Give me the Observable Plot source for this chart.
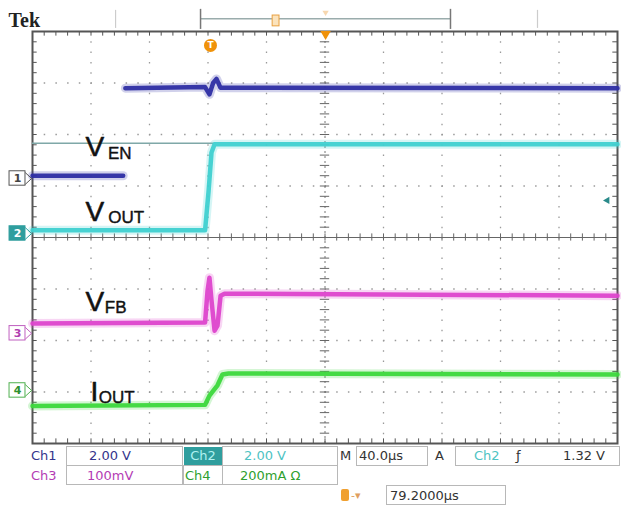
<!DOCTYPE html>
<html><head><meta charset="utf-8">
<script src="https://cdn.jsdelivr.net/npm/d3@7"></script>
<script src="https://cdn.jsdelivr.net/npm/@observablehq/plot@0.6"></script>
<style>
body{margin:0;background:#fff;}
#wrap{position:relative;width:621px;height:508px;overflow:hidden;font-family:"DejaVu Sans",sans-serif;background:#fff;}
#chart svg{display:block}
.s{position:absolute;font-size:13px;line-height:19px;height:19px;white-space:nowrap}
.b{position:absolute;border:1px solid #b8b8b8;box-sizing:border-box;height:20px}
</style></head><body>
<div id="wrap"><div id="chart"></div>
<div id="status">
  <span class="s" style="left:31px;top:446px;color:#34348c">Ch1</span>
  <div class="b" style="left:66px;top:446px;width:117px"></div>
  <span class="s" style="left:89px;top:446px;color:#34348c">2.00 V</span>
  <span class="s" style="left:184px;top:447px;width:38px;height:18px;line-height:18px;background:#2f9e9e;color:#b0f2f2;text-align:center">Ch2</span>
  <div class="b" style="left:222px;top:446px;width:116px"></div>
  <span class="s" style="left:244px;top:446px;color:#4ec3c3">2.00 V</span>
  <span class="s" style="left:340px;top:446px;color:#333">M</span>
  <div class="b" style="left:356px;top:446px;width:72px"></div>
  <span class="s" style="left:359px;top:446px;color:#333">40.0µs</span>
  <span class="s" style="left:435px;top:446px;color:#333">A</span>
  <div class="b" style="left:455px;top:446px;width:165px"></div>
  <span class="s" style="left:474px;top:446px;color:#4ec3c3">Ch2</span>
  <span class="s" style="left:516px;top:446px;color:#333">ƒ</span>
  <span class="s" style="left:563px;top:446px;color:#333">1.32 V</span>

  <span class="s" style="left:31px;top:466px;color:#b43cb4">Ch3</span>
  <div class="b" style="left:66px;top:465px;width:117px"></div>
  <span class="s" style="left:87px;top:466px;color:#b43cb4">100mV</span>
  <div class="b" style="left:183px;top:465px;width:40px"></div>
  <span class="s" style="left:185px;top:466px;color:#2f9f2f">Ch4</span>
  <div class="b" style="left:222px;top:465px;width:116px"></div>
  <span class="s" style="left:240px;top:466px;color:#2f9f2f">200mA Ω</span>

  <span class="s" style="left:341px;top:489px;width:8px;height:12px;background:#f0a030;border-radius:2px"></span>
  <span class="s" style="left:351px;top:486px;color:#e0a060;font-size:11px">-▾</span>
  <div class="b" style="left:386px;top:485px;width:120px"></div>
  <span class="s" style="left:390px;top:486px;color:#333">79.2000µs</span>
</div>
</div>
<script>
// Trace data: time in µs (40 µs/div, 10 div), value in screen divisions (-4..4)
const ch1 = [
  {seg:0,t:0,v:1.20},{seg:0,t:62,v:1.20},
  {seg:1,t:63.5,v:2.90},{seg:1,t:118,v:2.92},{seg:1,t:121,v:2.78},{seg:1,t:123.5,v:3.00},
  {seg:1,t:125.8,v:3.08},{seg:1,t:128.5,v:2.91},{seg:1,t:400,v:2.90}
];
const ch2 = [
  {t:0,v:0.14},{t:118,v:0.14},{t:120.4,v:0.90},{t:122.4,v:1.65},{t:124.5,v:1.81},{t:400,v:1.81}
];
const ch3 = [
  {t:0,v:-1.67},{t:118,v:-1.65},{t:119.7,v:-1.03},{t:121,v:-0.78},{t:122.4,v:-1.22},
  {t:124.5,v:-1.81},{t:126.5,v:-1.71},{t:128.6,v:-1.13},{t:131.3,v:-1.09},{t:400,v:-1.13}
];
const ch4 = [
  {t:0,v:-3.27},{t:118,v:-3.25},{t:121,v:-3.07},{t:123.8,v:-2.97},{t:126.5,v:-2.87},
  {t:129.9,v:-2.66},{t:134,v:-2.64},{t:400,v:-2.66}
];
const refLine = [{v:1.83, t1:0, t2:124}];

const mainLabels = [
  {text:"V", t:36.3, v:1.59},
  {text:"V", t:36.3, v:0.33},
  {text:"V", t:36.3, v:-1.42},
  {text:"I", t:39.7, v:-3.17}
];
const subLabels = [
  {text:"EN", t:51.6, v:1.53},
  {text:"OUT", t:51.8, v:0.29},
  {text:"FB", t:49.4, v:-1.46},
  {text:"OUT", t:45.3, v:-3.21}
];
const markers = [
  {ch:"1", v:1.146, fill:"#ffffff", stroke:"#555555", color:"#444444"},
  {ch:"2", v:0.078, fill:"#2f9e9e", stroke:"#2f9e9e", color:"#ffffff"},
  {ch:"3", v:-1.86, fill:"#ffffff", stroke:"#c060c0", color:"#b040b0"},
  {ch:"4", v:-2.97, fill:"#ffffff", stroke:"#50b050", color:"#309030"}
];
const gridT = [40,80,120,160,240,280,320,360];
const gridV = [-3,-2,-1,1,2,3];

const minorT = d3.range(0, 400.01, 8);
const minorV = d3.range(-4, 4.01, 0.2);
const pointers = markers.flatMap(m => [
  {ch:m.ch, t:-4.8, v:m.v+0.11, s:m.stroke},
  {ch:m.ch, t:-0.6, v:m.v, s:m.stroke},
  {ch:m.ch, t:-4.8, v:m.v-0.11, s:m.stroke}
]);

function trace(data, color, z) {
  return [
    Plot.line(data, {x:"t", y:"v", z, stroke:color, strokeWidth:9, strokeOpacity:0.22, curve:"linear"}),
    Plot.line(data, {x:"t", y:"v", z, stroke:color, strokeWidth:4.5, strokeOpacity:0.95, curve:"linear"})
  ];
}

const plot = Plot.plot({
  width: 621, height: 445,
  marginLeft: 32, marginRight: 4, marginTop: 31, marginBottom: 2,
  x: {domain:[0,400], axis:null},
  y: {domain:[-4,4], axis:null},
  color: {type:"identity"},
  style: {background:"#ffffff", overflow:"visible"},
  marks: [
    // graticule
    Plot.ruleX(gridT, {stroke:"#9a9a9a", strokeWidth:1.3, strokeDasharray:"1.5 8.8"}),
    Plot.ruleY(gridV, {stroke:"#9a9a9a", strokeWidth:1.3, strokeDasharray:"1.5 10.2"}),
    Plot.ruleY([0], {stroke:"#666", strokeWidth:1}),
    Plot.ruleX([200], {stroke:"#777", strokeWidth:1, strokeDasharray:"2 3"}),
    Plot.ruleX(minorT, {y1:-0.07, y2:0.07, stroke:"#666", strokeWidth:1}),
    Plot.ruleY(minorV, {x1:196.8, x2:203.2, stroke:"#666", strokeWidth:1}),
    Plot.ruleX(minorT, {y1:4, y2:3.91, stroke:"#555", strokeWidth:1}),
    Plot.ruleX(minorT, {y1:-4, y2:-3.91, stroke:"#555", strokeWidth:1}),
    Plot.ruleY(minorV, {x1:0, x2:3.2, stroke:"#555", strokeWidth:1}),
    Plot.ruleY(minorV, {x1:400, x2:396.8, stroke:"#555", strokeWidth:1}),
    Plot.frame({stroke:"#555", strokeWidth:2}),
    // reference thin line
    Plot.ruleY(refLine, {y:"v", x1:"t1", x2:"t2", stroke:"#7fa8a8", strokeWidth:1.4}),
    // traces
    ...trace(ch1, "#2e2ea4", "seg"),
    ...trace(ch2, "#3fd0d0"),
    ...trace(ch3, "#dd44cc"),
    ...trace(ch4, "#3cd83c"),
    // labels
    Plot.text(mainLabels, {x:"t", y:"v", text:"text", textAnchor:"start", lineAnchor:"bottom", fontSize:28, fontFamily:"Liberation Sans, Arial, sans-serif", fill:"#111", stroke:"#111", strokeWidth:0.6}),
    Plot.text(subLabels, {x:"t", y:"v", text:"text", textAnchor:"start", lineAnchor:"bottom", fontSize:17, fontFamily:"Liberation Sans, Arial, sans-serif", fill:"#111", stroke:"#111", strokeWidth:0.4}),
    // channel markers
    Plot.line(pointers, {x:"t", y:"v", z:"ch", stroke:"s", strokeWidth:1}),
    Plot.rect(markers, {x1:-15.7, x2:-4.8, y1:d=>d.v-0.14, y2:d=>d.v+0.14, fill:"fill", stroke:"stroke", strokeWidth:1}),
    Plot.text(markers, {x:-10.25, y:"v", text:"ch", fill:"color", fontSize:11, fontFamily:"DejaVu Sans", fontWeight:"bold"}),
    // trigger level arrow
    Plot.dot([0.72], {x:393, y:d=>d, symbol:"triangle2", rotate:-90, r:3.5, fill:"#2a8a8a"}),
    // top record bar
    Plot.text(["Tek"], {x:-16.4, y:4.08, text:d=>d, textAnchor:"start", lineAnchor:"bottom", fontSize:20, fontWeight:"bold", fontFamily:"Liberation Serif, serif", fill:"#222"}),
    Plot.ruleY([4.25], {x1:114.9, x2:285.8, stroke:"#9aacac", strokeWidth:1.5}),
    Plot.ruleX([114.9, 285.8], {y1:4.04, y2:4.43, stroke:"#777", strokeWidth:1.5}),
    Plot.ruleX([56.8, 345.3], {y1:4.06, y2:4.41, stroke:"#cccccc", strokeWidth:1.2}),
    Plot.rect([0], {x1:164.2, x2:168.9, y1:4.10, y2:4.31, fill:"#fbe3bc", stroke:"#e8a040", strokeWidth:1}),
    Plot.dot([4.37], {x:200.4, y:d=>d, symbol:"triangle2", rotate:180, r:3, fill:"#f0b060", fillOpacity:0.5}),
    Plot.dot([3.95], {x:200.4, y:d=>d, symbol:"triangle2", rotate:180, r:5, fill:"#f0920a"}),
    Plot.dot([3.73], {x:121.7, y:d=>d, r:6.5, fill:"#f0920a"}),
    Plot.text(["T"], {x:121.7, y:3.73, text:d=>d, fill:"#fff", fontSize:9, fontWeight:"bold", fontFamily:"DejaVu Sans"})
  ]
});
document.getElementById("chart").appendChild(plot);
</script>
</body></html>
